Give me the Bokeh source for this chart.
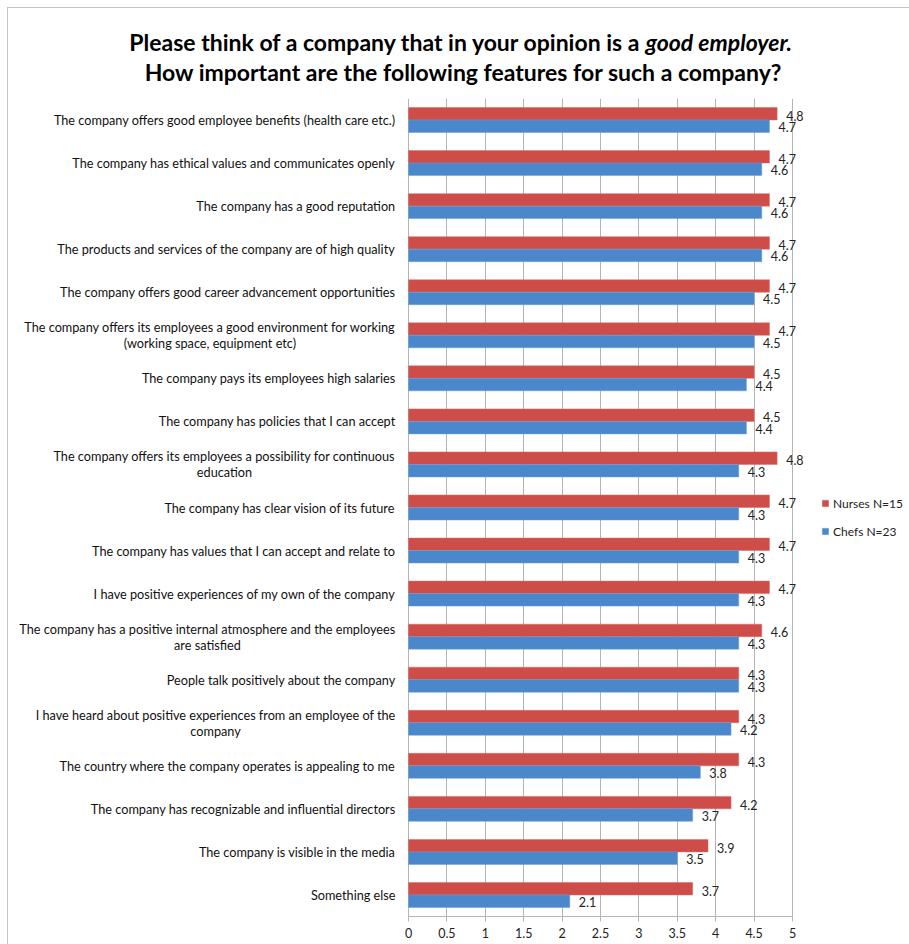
from bokeh.plotting import figure
from bokeh.layouts import column
from bokeh.models import (ColumnDataSource, FactorRange, Range1d, FixedTicker,
                          NumeralTickFormatter, Legend, LegendItem)
from bokeh.transform import dodge
from bokeh.core.properties import value
from bokeh.embed import file_html
from bokeh.resources import INLINE

categories = [
    "The company offers good employee benefits (health care etc.)",
    "The company has ethical values and communicates openly",
    "The company has a good reputation",
    "The products and services of the company are of high quality",
    "The company offers good career advancement opportunities",
    "The company offers its employees a good environment for working\n(working space, equipment etc)",
    "The company pays its employees high salaries",
    "The company has policies that I can accept",
    "The company offers its employees a possibility for continuous\neducation",
    "The company has clear vision of its future",
    "The company has values that I can accept and relate to",
    "I have positive experiences of my own of the company",
    "The company has a positive internal atmosphere and the employees\nare satisfied",
    "People talk positively about the company",
    "I have heard about positive experiences from an employee of the\ncompany",
    "The country where the company operates is appealing to me",
    "The company has recognizable and influential directors",
    "The company is visible in the media",
    "Something else",
]
nurses = [4.8, 4.7, 4.7, 4.7, 4.7, 4.7, 4.5, 4.5, 4.8, 4.7, 4.7, 4.7, 4.6, 4.3, 4.3, 4.3, 4.2, 3.9, 3.7]
chefs = [4.7, 4.6, 4.6, 4.6, 4.5, 4.5, 4.4, 4.4, 4.3, 4.3, 4.3, 4.3, 4.3, 4.3, 4.2, 3.8, 3.7, 3.5, 2.1]
series_names = ["Nurses N=15", "Chefs N=23"]
x_ticks = [0, 0.5, 1, 1.5, 2, 2.5, 3, 3.5, 4, 4.5, 5]
title_line1_a = ["Please think of a company that in your opinion is a"]
title_line1_b = ["good employer."]
title_line2 = ["How important are the following features for such a company?"]

RED = "#cf4d48"
BLUE = "#4a87cb"
GRID = "#b4b4b4"
BORDER = "#c4c4c4"
FONT = "Lato"

# layout constants (page pixels)
OFF = 8                 # border offset (7px margin + 1px line)
W_PAGE, H_PAGE = 909, 944
TITLE_H = 98 - OFF
X0_PX, X5_PX = 408, 792  # page x of value 0 and value 5
RIGHT_PX = 909
PXU = (X5_PX - X0_PX) / 5.0
FIG_W = W_PAGE - OFF
MAIN_H = H_PAGE - 98

# ---------- title figure ----------
tf = figure(width=FIG_W, height=TITLE_H, output_backend="svg", toolbar_location=None,
            x_range=Range1d(0, FIG_W), y_range=Range1d(TITLE_H, 0),
            min_border=0)
tf.axis.visible = False
tf.grid.visible = False
tf.outline_line_color = None
tf.text(x=[641 - OFF], y=[41 - OFF], text=title_line1_a, text_align="right",
        text_baseline="middle", text_font=value(FONT), text_font_size="23px",
        text_font_style="bold", text_color="#000000")
tf.text(x=[645 - OFF], y=[41 - OFF], text=title_line1_b, text_align="left",
        text_baseline="middle", text_font=value(FONT), text_font_size="23px",
        text_font_style="bold italic", text_color="#000000")
tf.text(x=[463 - OFF], y=[71 - OFF], text=title_line2, text_align="center",
        text_baseline="middle", text_font=value(FONT), text_font_size="23px",
        text_font_style="bold", text_color="#000000")

# ---------- main figure ----------
src = ColumnDataSource(dict(
    cat=categories, nurses=nurses, chefs=chefs,
    nurses_lbl=[f"{v:.1f}" for v in nurses],
    chefs_lbl=[f"{v:.1f}" for v in chefs],
))

p = figure(width=FIG_W, height=MAIN_H, output_backend="svg", toolbar_location=None,
           y_range=FactorRange(factors=categories[::-1]),
           x_range=Range1d(-(X0_PX - OFF) / PXU, (RIGHT_PX - X0_PX) / PXU),
           min_border_left=0, min_border_right=W_PAGE - RIGHT_PX,
           min_border_top=0, min_border_bottom=H_PAGE - 916)
p.outline_line_color = None

bh = 0.29
r_n = p.hbar(y=dodge("cat", bh / 2, range=p.y_range), right="nurses", left=0, height=bh,
             source=src, fill_color=RED, line_color="#d86a66", line_width=0.5)
r_c = p.hbar(y=dodge("cat", -bh / 2, range=p.y_range), right="chefs", left=0, height=bh,
             source=src, fill_color=BLUE, line_color="#6a9fd8", line_width=0.5)

p.text(x="nurses", y=dodge("cat", bh / 2, range=p.y_range), text="nurses_lbl", source=src,
       x_offset=9, y_offset=2, text_baseline="middle", text_align="left",
       text_font=value(FONT), text_font_size="12.5px", text_color="#222222")
p.text(x="chefs", y=dodge("cat", -bh / 2, range=p.y_range), text="chefs_lbl", source=src,
       x_offset=9, y_offset=1, text_baseline="middle", text_align="left",
       text_font=value(FONT), text_font_size="12.5px", text_color="#222222")

# category labels (right-anchored, multi-line centred)
p.text(x=0, y="cat", text="cat", source=src, x_offset=-13, anchor="center_right",
       text_align="center", text_baseline="middle", text_line_height=1.0,
       text_font=value(FONT), text_font_size="12.7px", text_color="#111111")

xa = p.xaxis[0]
xa.ticker = FixedTicker(ticks=x_ticks)
xa.bounds = (0, 5)
xa.formatter = NumeralTickFormatter(format="0.[0]")
xa.axis_line_color = GRID
xa.major_tick_line_color = GRID
xa.major_tick_out = 5
xa.major_tick_in = 0
xa.minor_tick_line_color = None
xa.major_label_text_font = FONT
xa.major_label_text_font_size = "12.5px"
xa.major_label_text_color = "#222222"
xa.major_label_standoff = 6
p.yaxis.visible = False

p.xgrid.ticker = FixedTicker(ticks=x_ticks)
p.xgrid.grid_line_color = GRID
p.ygrid.grid_line_color = None

legend = Legend(items=[LegendItem(label=series_names[0], renderers=[r_n]),
                       LegendItem(label=series_names[1], renderers=[r_c])],
                location=(821 - OFF, 375), padding=0, margin=0, spacing=8,
                glyph_width=8, glyph_height=8, label_height=20, label_standoff=4,
                label_text_font=FONT, label_text_font_size="12px",
                label_text_color="#222222",
                border_line_color=None, background_fill_alpha=0)
p.add_layout(legend)

layout = column(tf, p, spacing=0,
                styles={"margin-left": "7px", "margin-top": "7px",
                        "border-left": f"1px solid {BORDER}",
                        "border-top": f"1px solid {BORDER}"})

open("out.html", "w").write(file_html(layout, INLINE))
